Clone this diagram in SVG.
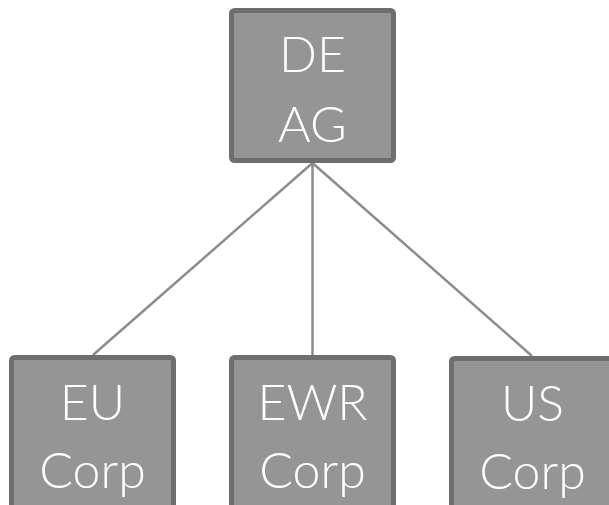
<svg xmlns="http://www.w3.org/2000/svg" width="609" height="505" viewBox="0 0 609 505">
  <style>
    .box { fill: #959595; stroke: #6e6e6e; stroke-width: 5; }
    .lbl { fill: #ffffff; font-family: "Lato", "Liberation Sans", sans-serif; font-weight: 300; font-size: 50px; text-anchor: middle; }
    .link { stroke: #8c8c8c; stroke-width: 2.5; fill: none; }
  </style>
  <rect width="609" height="505" fill="#ffffff"/>
  <g id="connectors">
    <line class="link" x1="312.5" y1="163" x2="93" y2="355"/>
    <line class="link" x1="312.5" y1="163" x2="312.5" y2="355"/>
    <line class="link" x1="312.5" y1="163" x2="532" y2="356"/>
  </g>
  <g id="de-ag">
    <rect class="box" x="231.5" y="10.5" width="162" height="150" rx="3"/>
    <text class="lbl" x="312.5" y="72">DE</text>
    <text class="lbl" x="312.5" y="142">AG</text>
  </g>
  <g id="eu-corp">
    <rect class="box" x="11.5" y="357.5" width="162" height="160" rx="3"/>
    <text class="lbl" x="92.5" y="420">EU</text>
    <text class="lbl" x="92.5" y="488">Corp</text>
  </g>
  <g id="ewr-corp">
    <rect class="box" x="231.5" y="357.5" width="162" height="160" rx="3"/>
    <text class="lbl" x="312.5" y="420">EWR</text>
    <text class="lbl" x="312.5" y="488">Corp</text>
  </g>
  <g id="us-corp">
    <rect class="box" x="451.5" y="358.5" width="162" height="160" rx="3"/>
    <text class="lbl" x="532.5" y="421">US</text>
    <text class="lbl" x="532.5" y="489">Corp</text>
  </g>
</svg>
